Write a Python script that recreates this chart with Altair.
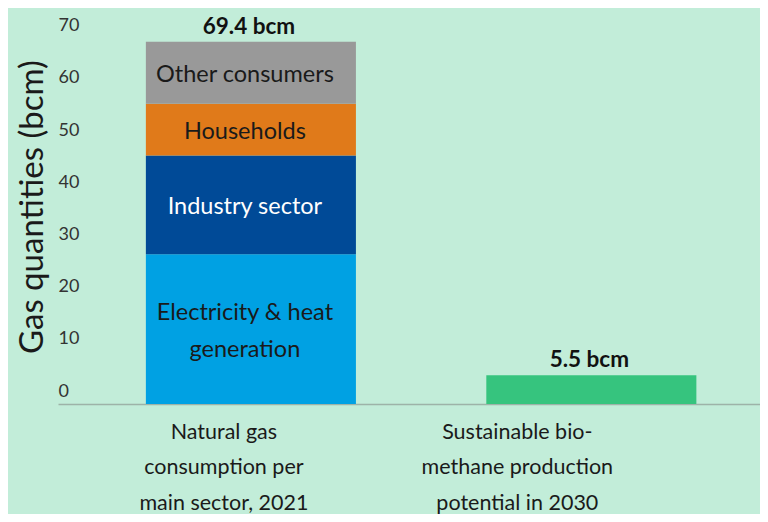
import altair as alt
import pandas as pd

categories = ["Natural gas|consumption per|main sector, 2021",
              "Sustainable bio-|methane production|potential in 2030"]
segments = ["Electricity & heat\ngeneration", "Industry sector", "Households",
            "Other consumers", "Biomethane"]
seg_category = [categories[0]] * 4 + [categories[1]]
seg_values = [28.7, 18.9, 9.9, 11.9, 5.5]
seg_labels = ["Electricity & heat\ngeneration", "Industry sector", "Households",
              "Other consumers", ""]
totals = [69.4, 5.5]
y_ticks = [0, 10, 20, 30, 40, 50, 60, 70]
colors = ["#00a1e3", "#004a97", "#e07a1a", "#999999", "#36c47e"]

FONT = "Lato"
BG = "#c2edd9"

df = pd.DataFrame({
    "category": seg_category,
    "segment": segments,
    "value": seg_values,
    "label": seg_labels,
    "order": list(range(len(segments))),
})
tot = pd.DataFrame({"category": categories, "total": totals})

xenc = alt.X(
    "category:N", sort=categories, title=None,
    scale=alt.Scale(paddingInner=0.383, paddingOuter=0.2225, align=0.58),
    axis=alt.Axis(
        labelExpr="split(datum.label, '|')", labelAngle=0, labelFont=FONT,
        labelFontSize=21.5, labelColor="#1a1a1a", labelLineHeight=35.5,
        labelPadding=17, labelLimit=400, ticks=False, domainColor="#9db3a8",
        domainWidth=1.5,
        labelOffset={"condition": {"test": "indexof(datum.value, 'Natural') == 0", "value": -27}, "value": -74},
    ),
)

bars = alt.Chart(df).mark_bar().encode(
    x=xenc,
    y=alt.Y(
        "value:Q", stack="zero",
        scale=alt.Scale(domain=[0, 70], nice=False),
        axis=alt.Axis(
            values=y_ticks, grid=False, domain=False, ticks=False,
            labelAlign="left", labelPadding=0, labelBaseline="alphabetic",
            labelOffset=-8, labelFont=FONT, labelFontSize=18, labelColor="#333333",
            title="Gas quantities (bcm)", titleFont=FONT, titleFontSize=33,
            titleFontWeight="normal", titleColor="#1a1a1a", titleAngle=-90,
            titleX=-26, titleY=168, titleAlign="center", titleBaseline="middle",
        ),
    ),
    color=alt.Color("segment:N", sort=segments,
                    scale=alt.Scale(domain=segments, range=colors), legend=None),
    order=alt.Order("order:Q"),
)

stacked = alt.Chart(df).transform_stack(
    stack="value", groupby=["category"], as_=["y0", "y1"],
    sort=[alt.SortField("order", "ascending")],
).transform_calculate(mid="(datum.y0 + datum.y1) / 2")

txt_enc = dict(
    x=alt.X("category:N", sort=categories),
    y=alt.Y("mid:Q"),
    text="label:N",
    color=alt.condition("datum.segment == 'Industry sector'",
                        alt.value("#ffffff"), alt.value("#1a1a1a")),
)

seg_text1 = stacked.transform_filter("indexof(datum.label, '\\n') < 0").mark_text(
    font=FONT, fontSize=23.5, baseline="middle", dx=-6, dy=2,
).encode(**txt_enc)

seg_text2 = stacked.transform_filter("indexof(datum.label, '\\n') >= 0").mark_text(
    font=FONT, fontSize=23.5, lineBreak="\n", lineHeight=37, baseline="middle",
    dx=-6, dy=-16,
).encode(**txt_enc)

tot_text = alt.Chart(tot).transform_calculate(
    txt="format(datum.total, '.1f') + ' bcm'"
).mark_text(
    font=FONT, fontSize=22.5, fontWeight="bold", baseline="alphabetic", dy=-8,
    dx=-2, color="#111111",
).encode(
    x=alt.X("category:N", sort=categories),
    y=alt.Y("total:Q"),
    text="txt:N",
)

chart = alt.layer(bars, seg_text1, seg_text2, tot_text).properties(
    width=702, height=365.4,
    autosize=alt.AutoSizeParams(type="none"),
    padding={"left": 50, "top": 30.6, "right": 0, "bottom": 110},
    background=BG,
).configure_view(stroke=None)

chart.save("out.html", embed_options={"renderer": "svg", "actions": False})
